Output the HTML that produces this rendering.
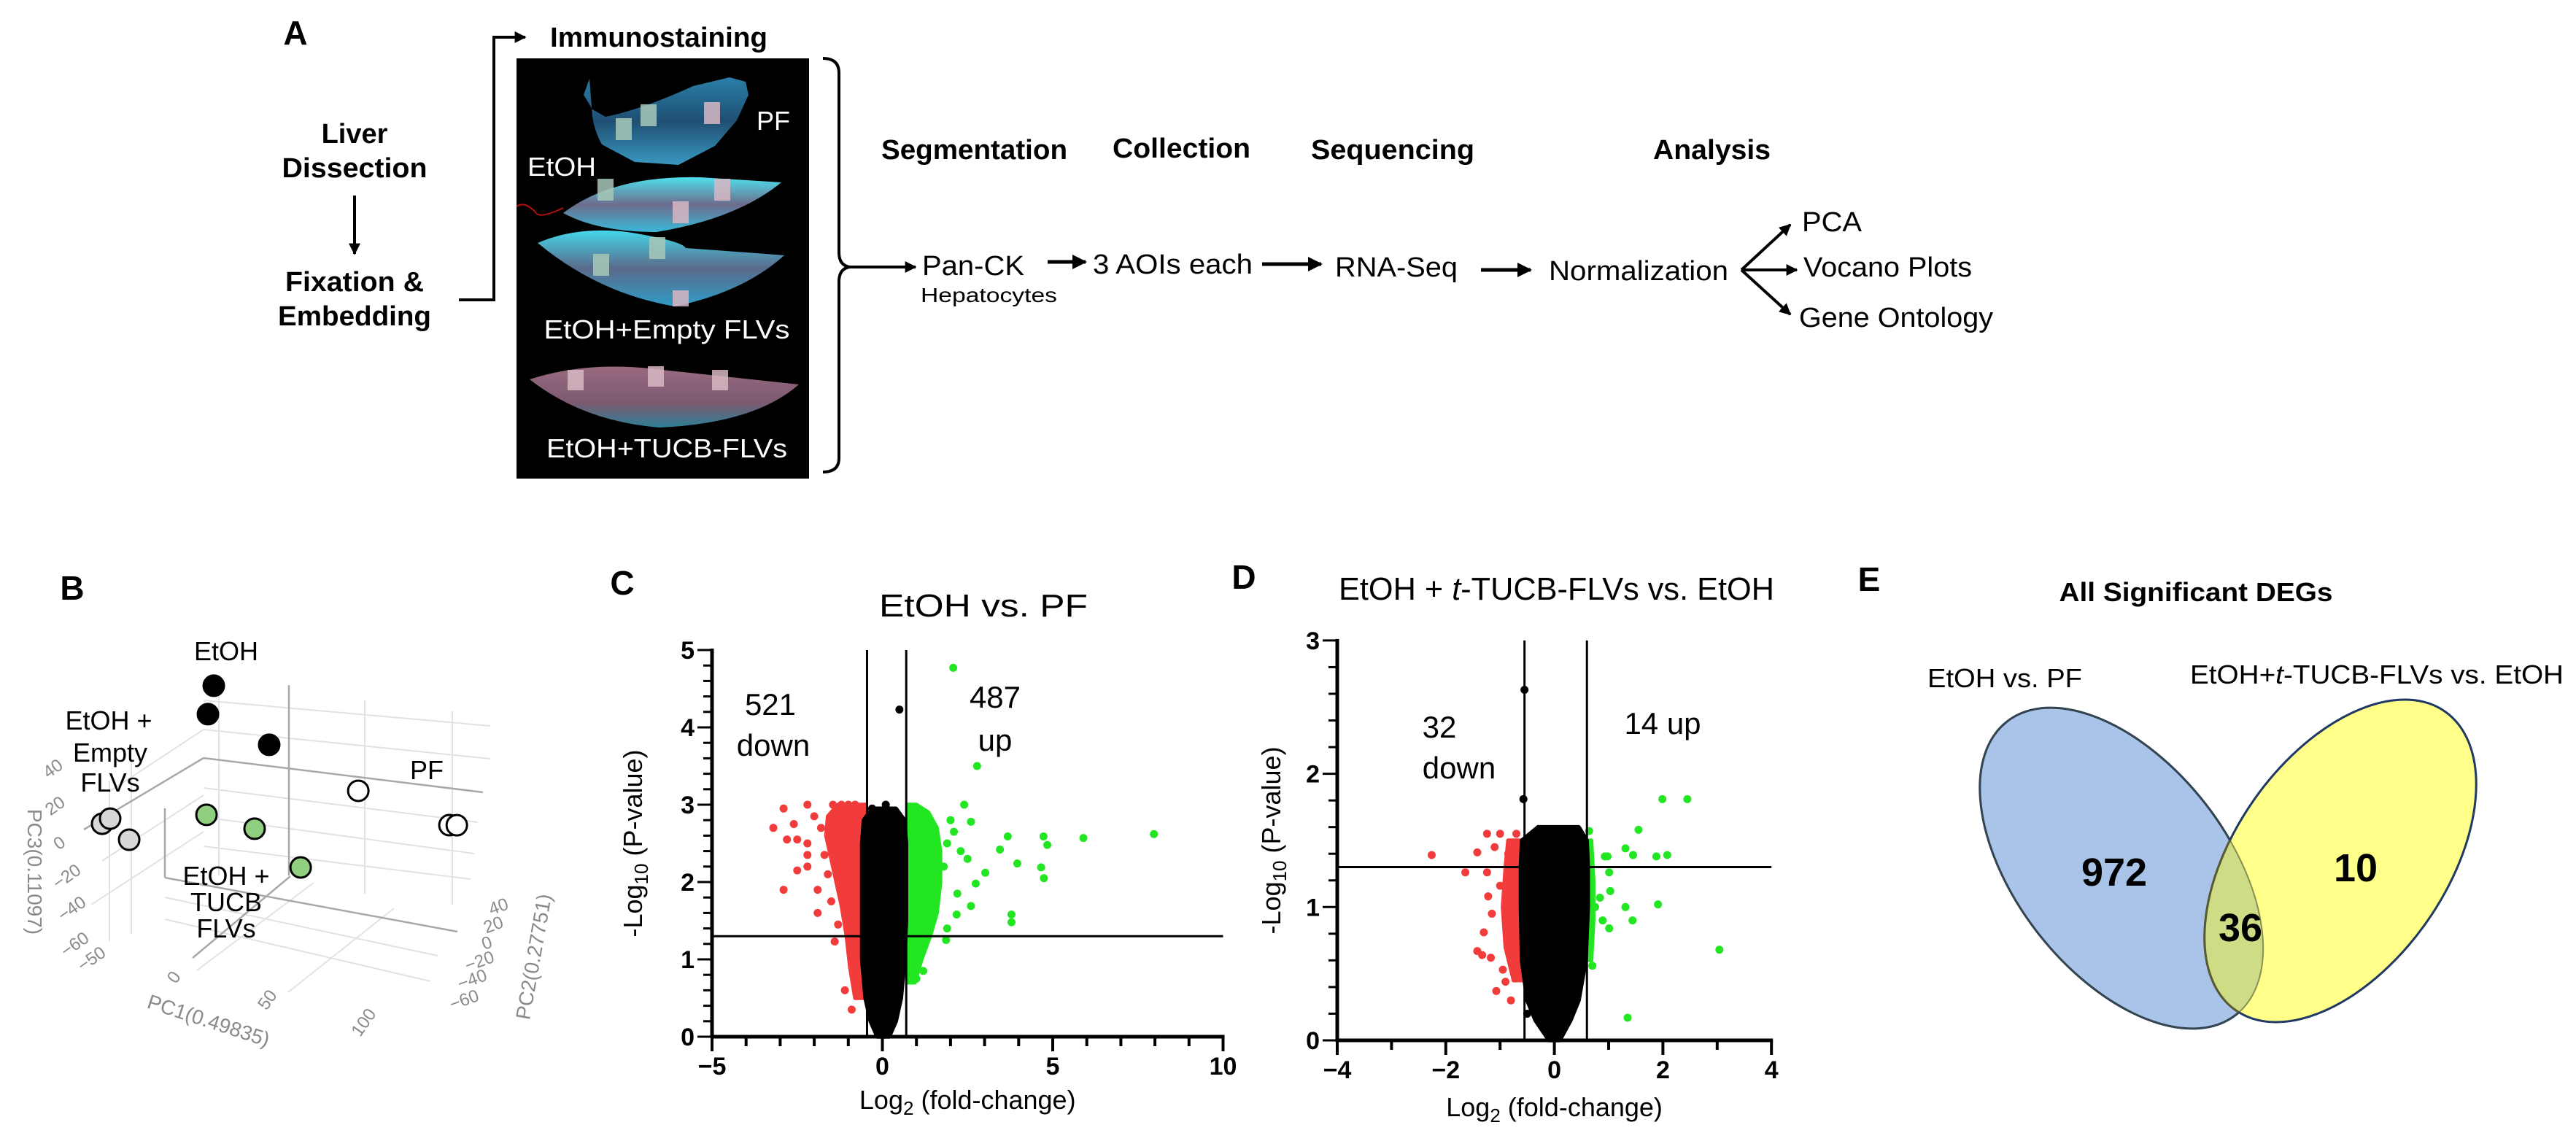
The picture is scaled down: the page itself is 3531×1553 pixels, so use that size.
<!DOCTYPE html>
<html><head><meta charset="utf-8">
<style>
html,body{margin:0;padding:0;background:#fff;}
svg{display:block;}
text{font-family:"Liberation Sans",Arial,sans-serif;}
</style></head>
<body>
<svg id="fig" xmlns="http://www.w3.org/2000/svg" width="3531" height="1553" viewBox="0 0 3531 1553">
<defs>
<marker id="ah" viewBox="0 0 10 10" refX="9" refY="5" markerWidth="4" markerHeight="4" orient="auto"><path d="M0,0 L10,5 L0,10 Z" fill="#000"/></marker>
<linearGradient id="gPF" x1="0" y1="0" x2="0" y2="1"><stop offset="0" stop-color="#2a7fa8"/><stop offset="0.5" stop-color="#1f4f72"/><stop offset="1" stop-color="#3a98c0"/></linearGradient>
<linearGradient id="gE1" x1="0" y1="0" x2="0" y2="1"><stop offset="0" stop-color="#4fe0ee"/><stop offset="0.5" stop-color="#6d6c8c"/><stop offset="1" stop-color="#3bb8d8"/></linearGradient>
<linearGradient id="gE2" x1="0" y1="0" x2="0" y2="1"><stop offset="0" stop-color="#45d6ea"/><stop offset="0.5" stop-color="#5a6a8a"/><stop offset="1" stop-color="#2f9cc8"/></linearGradient>
<linearGradient id="gT" x1="0" y1="0" x2="0" y2="1"><stop offset="0" stop-color="#9a6a80"/><stop offset="0.6" stop-color="#7a5a70"/><stop offset="1" stop-color="#2e7f96"/></linearGradient>
<clipPath id="blueClip"><ellipse cx="2908" cy="1190" rx="145" ry="255" transform="rotate(-38 2908 1190)"/></clipPath>
</defs>

<!-- ================= PANEL A ================= -->
<g>
<text x="405" y="61" font-size="46" font-weight="bold" text-anchor="middle">A</text>
<text x="486" y="196" font-size="38" font-weight="bold" text-anchor="middle">Liver</text>
<text x="486" y="243" font-size="38" font-weight="bold" text-anchor="middle" textLength="199" lengthAdjust="spacingAndGlyphs">Dissection</text>
<line x1="486" y1="268" x2="486" y2="348" stroke="#000" stroke-width="4" marker-end="url(#ah)"/>
<text x="486" y="399" font-size="38" font-weight="bold" text-anchor="middle" textLength="190" lengthAdjust="spacingAndGlyphs">Fixation &amp;</text>
<text x="486" y="446" font-size="38" font-weight="bold" text-anchor="middle" textLength="210" lengthAdjust="spacingAndGlyphs">Embedding</text>
<polyline points="629,411 677,411 677,51 720,51" fill="none" stroke="#000" stroke-width="4" marker-end="url(#ah)"/>
<text x="754" y="64" font-size="38" font-weight="bold" textLength="298" lengthAdjust="spacingAndGlyphs">Immunostaining</text>

<g>
<rect x="708" y="80" width="401" height="576" fill="#000"/>
<path d="M808,108 L800,130 L812,150 L830,160 Q880,150 950,118 L1000,106 L1022,112 L1026,130 L1010,165 L980,200 L930,226 L870,222 L825,198 Q815,180 812,160 Z" fill="url(#gPF)"/>
<path d="M772,292 Q840,240 960,243 L1071,250 Q1010,300 900,318 Q820,318 772,292 Z" fill="url(#gE1)"/>
<path d="M737,333 Q790,310 860,318 Q935,330 940,340 Q1010,345 1075,350 Q1020,400 925,420 Q820,402 737,333 Z" fill="url(#gE2)"/>
<path d="M726,520 Q800,496 890,505 L1095,527 Q1035,580 905,586 Q800,578 726,520 Z" fill="url(#gT)"/>
<path d="M708,283 Q720,275 735,292 Q740,300 772,285" fill="none" stroke="#b01010" stroke-width="2"/>
<g fill="#d8b8c4" opacity="0.85">
<rect x="844" y="162" width="22" height="30" fill="#a8c8b8"/><rect x="878" y="143" width="22" height="30" fill="#a8c8b8"/><rect x="965" y="140" width="22" height="30"/>
<rect x="819" y="245" width="22" height="30" fill="#a8c8b8"/><rect x="979" y="245" width="22" height="30"/><rect x="922" y="276" width="22" height="30"/>
<rect x="813" y="348" width="22" height="30" fill="#a8c8b8"/><rect x="890" y="325" width="22" height="30" fill="#a8c8b8"/><rect x="922" y="398" width="22" height="22"/>
<rect x="778" y="507" width="22" height="28"/><rect x="888" y="502" width="22" height="28"/><rect x="976" y="507" width="22" height="28"/>
</g>
<text x="1060" y="178" font-size="36" fill="#fff" text-anchor="middle">PF</text>
<text x="770" y="241" font-size="36" fill="#fff" text-anchor="middle" textLength="94" lengthAdjust="spacingAndGlyphs">EtOH</text>
<text x="914" y="464" font-size="36" fill="#fff" text-anchor="middle" textLength="337" lengthAdjust="spacingAndGlyphs">EtOH+Empty FLVs</text>
<text x="914" y="627" font-size="36" fill="#fff" text-anchor="middle" textLength="330" lengthAdjust="spacingAndGlyphs">EtOH+TUCB-FLVs</text>
</g>

<path d="M1128,80 Q1150,80 1150,100 L1150,346 Q1150,364 1165,366 Q1150,368 1150,386 L1150,628 Q1150,647 1128,647" fill="none" stroke="#000" stroke-width="4"/>
<line x1="1165" y1="366" x2="1255" y2="366" stroke="#000" stroke-width="4" marker-end="url(#ah)"/>

<text x="1208" y="218" font-size="38" font-weight="bold" textLength="255" lengthAdjust="spacingAndGlyphs">Segmentation</text>
<text x="1525" y="216" font-size="38" font-weight="bold" textLength="189" lengthAdjust="spacingAndGlyphs">Collection</text>
<text x="1797" y="218" font-size="38" font-weight="bold" textLength="224" lengthAdjust="spacingAndGlyphs">Sequencing</text>
<text x="2266" y="218" font-size="38" font-weight="bold" textLength="161" lengthAdjust="spacingAndGlyphs">Analysis</text>

<text x="1264" y="377" font-size="38" textLength="140" lengthAdjust="spacingAndGlyphs">Pan-CK</text>
<text x="1262" y="414" font-size="28" textLength="187" lengthAdjust="spacingAndGlyphs">Hepatocytes</text>
<line x1="1436" y1="359" x2="1488" y2="359" stroke="#000" stroke-width="5" marker-end="url(#ah)"/>
<text x="1498" y="375" font-size="38" textLength="219" lengthAdjust="spacingAndGlyphs">3 AOIs each</text>
<line x1="1730" y1="362" x2="1811" y2="362" stroke="#000" stroke-width="5" marker-end="url(#ah)"/>
<text x="1830" y="379" font-size="38" textLength="168" lengthAdjust="spacingAndGlyphs">RNA-Seq</text>
<line x1="2030" y1="370" x2="2098" y2="370" stroke="#000" stroke-width="5" marker-end="url(#ah)"/>
<text x="2123" y="384" font-size="38" textLength="246" lengthAdjust="spacingAndGlyphs">Normalization</text>
<g stroke="#000" stroke-width="4" fill="none">
<line x1="2387" y1="370" x2="2454" y2="308" marker-end="url(#ah)"/>
<line x1="2387" y1="370" x2="2463" y2="370" marker-end="url(#ah)"/>
<line x1="2387" y1="370" x2="2454" y2="431" marker-end="url(#ah)"/>
</g>
<text x="2470" y="317" font-size="38" textLength="82" lengthAdjust="spacingAndGlyphs">PCA</text>
<text x="2472" y="379" font-size="38" textLength="231" lengthAdjust="spacingAndGlyphs">Vocano Plots</text>
<text x="2466" y="448" font-size="38" textLength="266" lengthAdjust="spacingAndGlyphs">Gene Ontology</text>
</g>

<!-- ================= PANEL B ================= -->
<g id="panelB">
<text x="99" y="822" font-size="46" font-weight="bold" text-anchor="middle">B</text>
<g stroke="#e2e2e2" stroke-width="2" fill="none">
<line x1="279" y1="1000" x2="672" y2="1040"/><line x1="279" y1="960" x2="672" y2="995"/><line x1="279" y1="1080" x2="655" y2="1127"/>
<line x1="279" y1="1120" x2="650" y2="1170"/><line x1="279" y1="1160" x2="645" y2="1205"/>
<line x1="300" y1="935" x2="300" y2="1200"/><line x1="500" y1="960" x2="500" y2="1225"/><line x1="620" y1="975" x2="620" y2="1240"/>
<line x1="150" y1="1085" x2="279" y2="1000"/><line x1="140" y1="1180" x2="279" y2="1090"/><line x1="125" y1="1240" x2="279" y2="1140"/>
<line x1="150" y1="1070" x2="150" y2="1290"/><line x1="180" y1="1045" x2="180" y2="1280"/>
<line x1="270" y1="1330" x2="430" y2="1210"/><line x1="395" y1="1360" x2="540" y2="1245"/>
<line x1="226" y1="1230" x2="600" y2="1310"/><line x1="226" y1="1260" x2="590" y2="1345"/>
</g>
<g stroke="#a8a8a8" stroke-width="2.5" fill="none">
<line x1="279" y1="1039" x2="662" y2="1086"/><line x1="115" y1="1137" x2="279" y2="1039"/>
<line x1="396" y1="939" x2="396" y2="1200"/><line x1="226" y1="1108" x2="226" y2="1203"/>
<line x1="226" y1="1203" x2="627" y2="1277"/><line x1="398" y1="1201" x2="264" y2="1313"/>
</g>
<g font-size="24" fill="#8a8a8a">
<text transform="translate(77,1060) rotate(-35)" text-anchor="middle">40</text>
<text transform="translate(80,1111) rotate(-35)" text-anchor="middle">20</text>
<text transform="translate(86,1162) rotate(-35)" text-anchor="middle">0</text>
<text transform="translate(96,1208) rotate(-35)" text-anchor="middle">−20</text>
<text transform="translate(103,1252) rotate(-35)" text-anchor="middle">−40</text>
<text transform="translate(107,1301) rotate(-35)" text-anchor="middle">−60</text>
<text transform="translate(130,1321) rotate(-35)" text-anchor="middle">−50</text>
<text transform="translate(245,1344) rotate(-55)" text-anchor="middle">0</text>
<text transform="translate(373,1375) rotate(-55)" text-anchor="middle">50</text>
<text transform="translate(505,1406) rotate(-55)" text-anchor="middle">100</text>
<text transform="translate(686,1250) rotate(-20)" text-anchor="middle">40</text>
<text transform="translate(679,1275) rotate(-20)" text-anchor="middle">20</text>
<text transform="translate(670,1300) rotate(-20)" text-anchor="middle">0</text>
<text transform="translate(660,1325) rotate(-20)" text-anchor="middle">−20</text>
<text transform="translate(650,1350) rotate(-20)" text-anchor="middle">−40</text>
<text transform="translate(639,1378) rotate(-20)" text-anchor="middle">−60</text>
</g>
<text transform="translate(38,1195) rotate(90)" font-size="28" fill="#8a8a8a" text-anchor="middle">PC3(0.11097)</text>
<text transform="translate(283,1408) rotate(18)" font-size="28" fill="#8a8a8a" text-anchor="middle">PC1(0.49835)</text>
<text transform="translate(741,1313) rotate(-80)" font-size="28" fill="#8a8a8a" text-anchor="middle">PC2(0.27751)</text>
<g id="pcaPoints"></g>
<g font-size="36">
<text x="310" y="905" text-anchor="middle">EtOH</text>
<text x="149" y="1000" text-anchor="middle">EtOH +</text>
<text x="151" y="1044" text-anchor="middle">Empty</text>
<text x="151" y="1085" text-anchor="middle">FLVs</text>
<text x="585" y="1068" text-anchor="middle">PF</text>
<text x="310" y="1213" text-anchor="middle">EtOH +</text>
<text x="310" y="1249" text-anchor="middle">TUCB</text>
<text x="310" y="1285" text-anchor="middle">FLVs</text>
</g>
</g>

<!-- ================= PANEL C / D ================= -->
<g id="panelC">
<text x="853" y="815" font-size="46" font-weight="bold" text-anchor="middle">C</text>
<text x="1348" y="845" font-size="44" text-anchor="middle" textLength="286" lengthAdjust="spacingAndGlyphs">EtOH vs. PF</text>
</g>
<g id="panelD">
<text x="1705" y="807" font-size="46" font-weight="bold" text-anchor="middle">D</text>
<text x="1835" y="822" font-size="44" textLength="597" lengthAdjust="spacingAndGlyphs">EtOH + <tspan font-style="italic">t</tspan>-TUCB-FLVs vs. EtOH</text>
</g>

<!-- ================= PANEL E ================= -->
<g>
<text x="2562" y="810" font-size="46" font-weight="bold" text-anchor="middle">E</text>
<text x="3010" y="824" font-size="36" font-weight="bold" text-anchor="middle" textLength="375" lengthAdjust="spacingAndGlyphs">All Significant DEGs</text>
<text x="2642" y="942" font-size="36" textLength="212" lengthAdjust="spacingAndGlyphs">EtOH vs. PF</text>
<text x="3002" y="937" font-size="36" textLength="512" lengthAdjust="spacingAndGlyphs">EtOH+<tspan font-style="italic">t</tspan>-TUCB-FLVs vs. EtOH</text>
<ellipse cx="2908" cy="1190" rx="145" ry="255" transform="rotate(-38 2908 1190)" fill="#a9c4e8" stroke="#1f3864" stroke-width="3"/>
<ellipse cx="3208" cy="1180" rx="145" ry="250" transform="rotate(35 3208 1180)" fill="#ffff8a" stroke="#1f3864" stroke-width="3"/>
<g clip-path="url(#blueClip)">
<ellipse cx="3208" cy="1180" rx="145" ry="250" transform="rotate(35 3208 1180)" fill="#cfdc86" stroke="#5a5a30" stroke-width="3"/>
</g>
<ellipse cx="2908" cy="1190" rx="145" ry="255" transform="rotate(-38 2908 1190)" fill="none" stroke="#4a5030" stroke-width="2" opacity="0.6"/>
<g id="vennNums" font-size="54" font-weight="bold" text-anchor="middle"></g>
</g>

<script>
// ---------- data: PCA ----------
const pcaGroups = ['EtOH','PF','EtOH+TUCB FLVs','EtOH+Empty FLVs'];
const pcaPC1 = [[-2.8,-7.9,23.3],[68.6,115.8,119.8],[-15.5,9.7,32.1],[-72.8,-68.1,-59.2]];
const pcaPC2 = [[0,0,0],[0,0,0],[0,0,0],[0,0,0]];
const pcaPC3 = [[98.9,81.4,72.0],[57.5,50.1,51.1],[22.2,20.8,4.5],[2.4,6.5,-3.2]];
const pcaFill = ['#000','#fff','#8fcf7f','#d8d8d8'];

// ---------- data: Volcano C ----------
const cXTicks = [-5,0,5,10];
const cYTicks = [0,1,2,3,4,5];
const cFcThresh = [-0.45,0.7];
const cPThresh = 1.3;
const cBlackLevels = [0,0.2,0.5,1.0,1.5,2.0,2.5,2.8,2.95];
const cBlackLeft  = [-0.15,-0.35,-0.5,-0.6,-0.6,-0.6,-0.6,-0.55,-0.3];
const cBlackRight = [0.2,0.4,0.55,0.65,0.7,0.7,0.7,0.65,0.4];
const cRedLevels = [0.5,0.9,1.3,1.7,2.0,2.3,2.6,2.85,3.0];
const cRedLeft   = [-0.8,-0.95,-1.05,-1.2,-1.35,-1.5,-1.65,-1.6,-1.3];
const cGreenLevels = [0.7,1.0,1.3,1.6,2.0,2.4,2.7,2.9,3.0];
const cGreenRight  = [0.95,1.15,1.4,1.6,1.7,1.7,1.6,1.35,1.0];
const cRedX = [-3.2,-2.9,-2.6,-2.2,-2.8,-2.5,-2.2,-2.5,-2.2,-2.9,-1.9,-1.9,-1.4,-1.7,-2.2,-1.45,-1.2,-1.0,-0.8,-1.1,-0.9,-1.8,-2.0,-1.6,-1.5,-1.3];
const cRedY = [2.7,2.95,2.75,3.0,2.55,2.55,2.5,2.15,2.2,1.9,1.9,1.6,1.23,2.35,2.35,3.0,3.0,3.0,3.0,0.6,0.35,2.7,2.85,2.1,1.75,1.45];
const cGreenX = [2.08,2.78,7.97,5.9,4.73,4.84,3.68,4.66,4.74,3.96,3.45,3.02,3.79,3.79,2.4,2.6,2.74,2.18,2.6,1.87,1.2,1.0,2.0,1.9,2.3,1.8,2.2,1.9,2.5,2.1];
const cGreenY = [4.77,3.5,2.62,2.57,2.59,2.48,2.59,2.19,2.05,2.24,2.42,2.12,1.58,1.48,3.0,2.78,1.98,1.58,1.69,1.25,0.85,0.75,2.8,2.5,2.4,2.2,1.85,1.4,2.3,2.65];
const cBlackX = [0.5,-0.3,0.3,0.1];
const cBlackY = [4.23,2.95,2.9,3.0];
const cCounts = ['521','down','487','up'];

// ---------- data: Volcano D ----------
const dXTicks = [-4,-2,0,2,4];
const dYTicks = [0,1,2,3];
const dFcThresh = [-0.55,0.6];
const dPThresh = 1.3;
const dBlackLevels = [0,0.15,0.3,0.6,1.0,1.3,1.5,1.6];
const dBlackLeft  = [-0.1,-0.35,-0.5,-0.6,-0.62,-0.62,-0.6,-0.3];
const dBlackRight = [0.1,0.3,0.45,0.58,0.62,0.62,0.6,0.45];
const dRedLevels = [0.45,0.7,1.0,1.3,1.5];
const dRedLeft   = [-0.75,-0.9,-0.95,-0.9,-0.85];
const dGreenLevels = [0.6,0.9,1.2,1.5];
const dGreenRight  = [0.68,0.72,0.72,0.68];
const dRedX = [-2.26,-1.64,-1.42,-1.24,-1.0,-0.7,-1.42,-1.33,-1.07,-0.9,-1.17,-1.3,-1.22,-1.24,-1.0,-0.95,-1.1,-0.85,-1.15,-0.8];
const dRedY = [1.39,1.26,1.41,1.55,1.55,1.55,0.67,0.64,0.37,0.44,0.62,0.81,1.08,1.26,1.16,0.53,1.45,1.4,0.95,0.3];
const dGreenX = [1.99,2.45,1.55,1.31,1.45,1.88,2.08,0.93,0.98,1.01,3.04,1.35,1.91,1.31,1.44,1.01,0.89,0.75,0.84,1.03,0.7,0.64];
const dGreenY = [1.81,1.81,1.58,1.44,1.39,1.38,1.39,1.38,1.38,1.26,0.68,0.17,1.02,1.0,0.9,0.84,0.9,1.0,1.07,1.12,0.56,1.57];
const dBlackX = [-0.55,-0.57,-0.5,-0.45];
const dBlackY = [2.63,1.81,0.2,0.3];
const dCounts = ['32','down','14 up'];

// ---------- data: Venn ----------
const vennValues = [972,36,10];

const NS = 'http://www.w3.org/2000/svg';
function mk(tag, attrs, parent){
  const e = document.createElementNS(NS, tag);
  for (const k in attrs) e.setAttribute(k, attrs[k]);
  parent.appendChild(e);
  return e;
}
function subTitle(t, pre, sub, post){
  const a = mk('tspan',{},t); a.textContent = pre;
  const b = mk('tspan',{'font-size':26,dy:8},t); b.textContent = sub;
  const c = mk('tspan',{dy:-8},t); c.textContent = post;
}

// ---------- PCA projection ----------
(function(){
  const g = document.getElementById('pcaPoints');
  const O = [330,1180], v1=[2.6,0.62], v2=[0.42,-1.26], v3=[-0.3,-2.41];
  const proj = (a,b,c)=>[O[0]+a*v1[0]+b*v2[0]+c*v3[0], O[1]+a*v1[1]+b*v2[1]+c*v3[1]];
  pcaGroups.forEach((grp,gi)=>{
    pcaPC1[gi].forEach((p1,i)=>{
      const p = proj(p1, pcaPC2[gi][i], pcaPC3[gi][i]);
      const c = mk('circle',{cx:p[0],cy:p[1],r:14,fill:pcaFill[gi],stroke:'#000','stroke-width':3},g);
      
      
    });
  });
})();

// ---------- volcano ----------
function volcano(o){
  const g = document.getElementById(o.id);
  const sx = v => o.x0 + (v - o.xmin) * o.ux;
  const sy = v => o.y0 - v * o.uy;
  const xmax = o.xTicks[o.xTicks.length-1], ymax = o.yTicks[o.yTicks.length-1];
  function env(levels, left, right, fill, name){
    const pts = [];
    levels.forEach((l,i)=>pts.push(sx(left[i])+','+sy(l)));
    for (let i=levels.length-1;i>=0;i--) pts.push(sx(right[i])+','+sy(levels[i]));
    const p = mk('polygon',{points:pts.join(' '),fill:fill,stroke:fill,'stroke-width':o.r,'stroke-linejoin':'round'},g);
    
    
  }
  env(o.redLevels, o.redLeft, o.redLevels.map(()=>o.fc[0]-0.05), '#f23b3b', 'down-regulated-dense');
  env(o.greenLevels, o.greenLevels.map(()=>o.fc[1]+0.05), o.greenRight, '#22e622', 'up-regulated-dense');
  function pts(xs, ys, fill, name){
    xs.forEach((x,i)=>{
      const c = mk('circle',{cx:sx(x),cy:sy(ys[i]),r:o.r,fill:fill},g);
      
      
    });
  }
  pts(o.redX, o.redY, '#f23b3b', 'down-gene-point');
  pts(o.greenX, o.greenY, '#22e622', 'up-gene-point');
  env(o.blackLevels, o.blackLeft, o.blackRight, '#000', 'nonsignificant-dense');
  pts(o.blackX, o.blackY, '#000', 'nonsignificant-point');
  o.fc.forEach(f=>{
    const l = mk('line',{x1:sx(f),x2:sx(f),y1:sy(0),y2:sy(ymax),stroke:'#000','stroke-width':3},g);
    
    
  });
  const h = mk('line',{x1:sx(o.xmin),x2:sx(xmax),y1:sy(o.p),y2:sy(o.p),stroke:'#000','stroke-width':3},g);
  
  
  const ax = mk('g',{},g);
  
  
  mk('line',{x1:sx(o.xmin)-2,x2:sx(xmax)+2,y1:sy(0),y2:sy(0),stroke:'#000','stroke-width':5},ax);
  for (let v=o.xmin; v<=xmax+1e-9; v+=o.xMinor){
    const major = o.xTicks.some(t=>Math.abs(t-v)<1e-6);
    mk('line',{x1:sx(v),x2:sx(v),y1:sy(0),y2:sy(0)+(major?20:13),stroke:'#000','stroke-width':4},ax);
  }
  o.xTicks.forEach(t=>{
    const tx = mk('text',{x:sx(t),y:sy(0)+52,'font-size':34,'font-weight':'bold','text-anchor':'middle'},ax);
    tx.textContent = t<0 ? '−'+Math.abs(t) : String(t);
    
    
  });
  const ay = mk('g',{},g);
  
  
  mk('line',{x1:sx(o.xmin),x2:sx(o.xmin),y1:sy(ymax)-2,y2:sy(0)+2,stroke:'#000','stroke-width':5},ay);
  for (let v=0; v<=ymax+1e-9; v+=o.yMinor){
    const major = o.yTicks.some(t=>Math.abs(t-v)<1e-6);
    mk('line',{x1:sx(o.xmin)-(major?20:12),x2:sx(o.xmin),y1:sy(v),y2:sy(v),stroke:'#000','stroke-width':3},ay);
  }
  o.yTicks.forEach(t=>{
    const tx = mk('text',{x:sx(o.xmin)-24,y:sy(t)+12,'font-size':34,'font-weight':'bold','text-anchor':'end'},ay);
    tx.textContent = String(t);
    
    
  });
  const xt = mk('text',{x:(sx(o.xmin)+sx(xmax))/2,y:o.xTitleY,'font-size':36,'text-anchor':'middle'},g);
  subTitle(xt,'Log','2',' (fold-change)');
  
  
  const yt = mk('text',{transform:'translate('+o.yTitleX+','+((sy(0)+sy(ymax))/2)+') rotate(-90)','font-size':36,'text-anchor':'middle'},g);
  subTitle(yt,'-Log','10',' (P-value)');
  
  
  o.labels.forEach((s,i)=>{
    const tx = mk('text',{x:o.labelPos[i][0],y:o.labelPos[i][1],'font-size':42,'text-anchor':'middle'},g);
    tx.textContent = s;
    
    
  });
}

volcano({id:'panelC', x0:976, xmin:-5, ux:46.7, y0:1421, uy:106, r:5.5,
  xTicks:cXTicks, yTicks:cYTicks, xMinor:1, yMinor:0.2, fc:cFcThresh, p:cPThresh,
  blackLevels:cBlackLevels, blackLeft:cBlackLeft, blackRight:cBlackRight,
  redLevels:cRedLevels, redLeft:cRedLeft, greenLevels:cGreenLevels, greenRight:cGreenRight,
  redX:cRedX, redY:cRedY, greenX:cGreenX, greenY:cGreenY, blackX:cBlackX, blackY:cBlackY,
  labels:cCounts, labelPos:[[1056,980],[1060,1036],[1364,970],[1364,1029]],
  xTitleY:1520, yTitleX:880});

volcano({id:'panelD', x0:1833, xmin:-4, ux:74.4, y0:1426, uy:182.7, r:5.5,
  xTicks:dXTicks, yTicks:dYTicks, xMinor:1, yMinor:0.2, fc:dFcThresh, p:dPThresh,
  blackLevels:dBlackLevels, blackLeft:dBlackLeft, blackRight:dBlackRight,
  redLevels:dRedLevels, redLeft:dRedLeft, greenLevels:dGreenLevels, greenRight:dGreenRight,
  redX:dRedX, redY:dRedY, greenX:dGreenX, greenY:dGreenY, blackX:dBlackX, blackY:dBlackY,
  labels:dCounts, labelPos:[[1973,1011],[2000,1067],[2279,1006]],
  xTitleY:1530, yTitleX:1755});

(function(){
  const g = document.getElementById('vennNums');
  const pos = [[2898,1214],[3071,1290],[3229,1208]];
  vennValues.forEach((v,i)=>{
    const t = mk('text',{x:pos[i][0],y:pos[i][1]},g);
    t.textContent = String(v);
    
    
  });
})();
</script>
</svg>
</body></html>
